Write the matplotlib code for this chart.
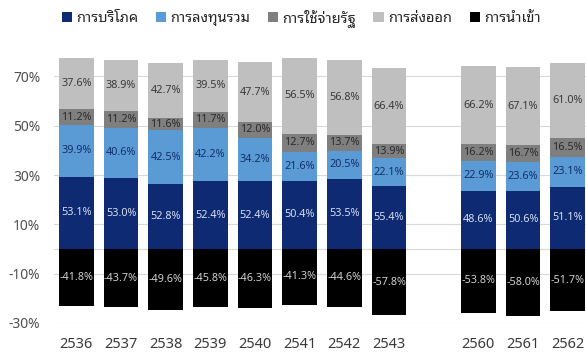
"""
GDP expenditure components by year, stacked bars with share labels.
"""

import numpy as np
import matplotlib
matplotlib.use('Agg')
import matplotlib.pyplot as plt
from matplotlib.patches import Patch

plt.rcParams['font.family'] = ['Noto Sans Thai Looped', 'Noto Sans', 'DejaVu Sans']

years = ['2536', '2537', '2538', '2539', '2540', '2541', '2542', '2543',
         '2560', '2561', '2562']

series_names = ['การบริโภค', 'การลงทุนรวม', 'การใช้จ่ายรัฐ', 'การส่งออก', 'การนำเข้า']

# Plotted bar heights (axis units, %)
consumption = [29.4, 29.0, 26.3, 27.4, 27.4, 27.7, 28.5, 25.7, 23.7, 23.7, 25.3]
investment = [20.9, 20.2, 22.0, 21.7, 17.8, 11.8, 11.3, 11.1, 12.0, 11.8, 12.1]
government = [6.5, 6.9, 4.7, 6.6, 6.2, 7.1, 6.5, 5.7, 6.8, 6.7, 7.5]
exports = [20.8, 20.5, 22.3, 21.0, 24.6, 31.0, 30.3, 31.0, 31.8, 31.5, 30.4]
imports = [-23.0, -23.5, -24.6, -23.5, -23.9, -22.5, -23.4, -26.9, -25.8, -27.0, -25.3]

# Share of GDP written on each segment
consumption_share = [53.1, 53.0, 52.8, 52.4, 52.4, 50.4, 53.5, 55.4, 48.6, 50.6, 51.1]
investment_share = [39.9, 40.6, 42.5, 42.2, 34.2, 21.6, 20.5, 22.1, 22.9, 23.6, 23.1]
government_share = [11.2, 11.2, 11.6, 11.7, 12.0, 12.7, 13.7, 13.9, 16.2, 16.7, 16.5]
exports_share = [37.6, 38.9, 42.7, 39.5, 47.7, 56.5, 56.8, 66.4, 66.2, 67.1, 61.0]
imports_share = [-41.8, -43.7, -49.6, -45.8, -46.3, -41.3, -44.6, -57.8, -53.8, -58.0, -51.7]

yticks = [-30, -10, 10, 30, 50, 70]

COLORS = ['#0d2a72', '#5b9bd5', '#7f7f7f', '#bfbfbf', '#000000']
LABEL_COLORS = ['#d6def0', '#13306b', '#2b2b2b', '#3a3a3a', '#cfcfcf']


def plot_components():
    fig = plt.figure(figsize=(5.86, 3.54), dpi=100)
    ax = fig.add_axes([0.0922, 0.0876, 0.9147, 0.766])

    # leave one empty slot between 2543 and 2560
    x = np.arange(len(years), dtype=float)
    x[8:] += 1
    width = 0.78

    pos_series = [consumption, investment, government, exports]
    pos_shares = [consumption_share, investment_share, government_share, exports_share]

    bottom = np.zeros(len(years))
    for vals, shares, color, lcolor in zip(pos_series, pos_shares, COLORS, LABEL_COLORS):
        bars = ax.bar(x, vals, width, bottom=bottom, color=color, zorder=2)
        ax.bar_label(bars, labels=[f'{s:.1f}%' for s in shares], label_type='center',
                     color=lcolor, fontsize=7.8)
        bottom += np.array(vals)

    bars = ax.bar(x, imports, width, color=COLORS[4], zorder=2)
    ax.bar_label(bars, labels=[f'{s:.1f}%' for s in imports_share], label_type='center',
                 color=LABEL_COLORS[4], fontsize=7.8)

    ax.set_xlim(-0.5, 11.5)
    ax.set_ylim(-30, 80)
    ax.set_yticks(yticks)
    ax.set_yticklabels([f'{t}%' for t in yticks])
    ax.set_xticks(x)
    ax.set_xticklabels(years)
    ax.tick_params(axis='y', length=0, pad=10, labelsize=10, labelcolor='#505050')
    ax.tick_params(axis='x', length=0, pad=10, labelsize=10.5, labelcolor='#3a3a3a')

    ax.grid(axis='y', color='#d9d9d9', linewidth=0.8, zorder=0)
    ax.axhline(0, color='#d9d9d9', linewidth=0.8, zorder=1)
    for s in ax.spines.values():
        s.set_visible(False)

    handles = [Patch(facecolor=c, edgecolor='none') for c in COLORS]
    fig.legend(handles, series_names, loc='center', bbox_to_anchor=(0.514, 0.949),
               ncol=5, frameon=False, fontsize=10.5, handlelength=0.7, handleheight=0.7,
               handletextpad=0.3, columnspacing=1.2, labelcolor='#262626')

    fig.savefig('out.png', dpi=100)


if __name__ == '__main__':
    plot_components()
